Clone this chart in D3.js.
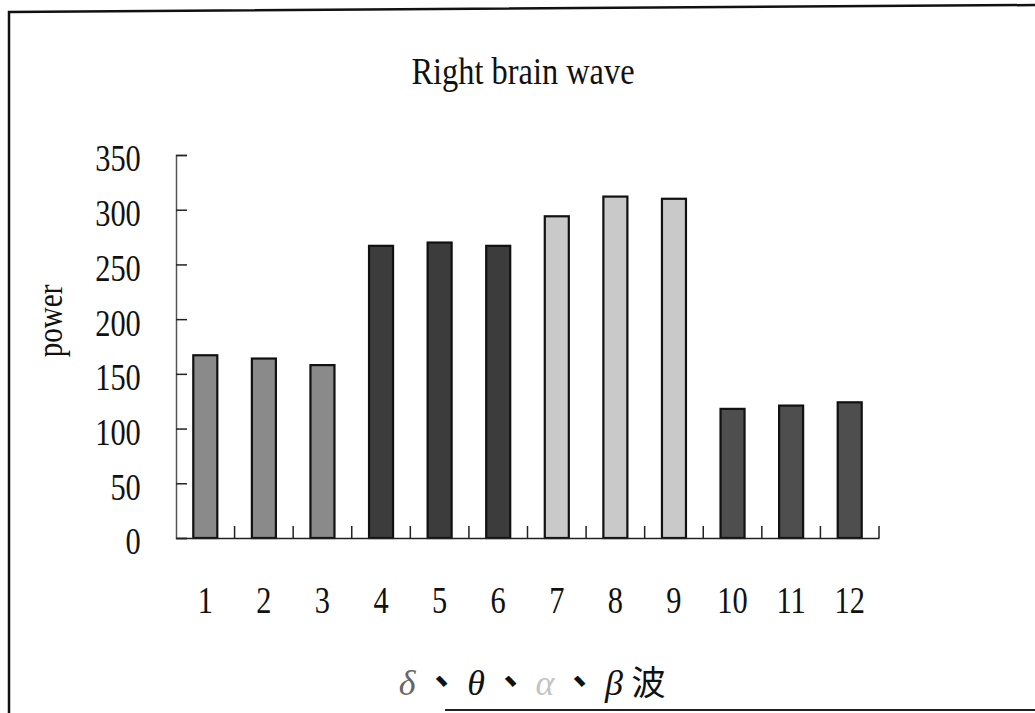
<!DOCTYPE html>
<html>
<head>
<meta charset="utf-8">
<script src="https://cdn.jsdelivr.net/npm/d3@7"></script>
<style>
  html, body { margin: 0; padding: 0; background: #fff; }
  svg { display: block; }
</style>
</head>
<body>
<script>
// data
var categories = ['1', '2', '3', '4', '5', '6', '7', '8', '9', '10', '11', '12'];
var power = [167, 164, 158, 267, 270, 267, 294, 312, 310, 118, 121, 124];
var waveBand = ['δ', 'δ', 'δ', 'θ', 'θ', 'θ', 'α', 'α', 'α', 'β', 'β', 'β'];
var yTicks = [0, 50, 100, 150, 200, 250, 300, 350];
var xLabelParts = ['δ', '、', 'θ', '、', 'α', '、', 'β', '波'];

var width = 1035,
    height = 713;

var serif = '"Liberation Serif", "Times New Roman", serif';
var cjk = '"Noto Sans CJK TC", "Noto Sans CJK SC", sans-serif';

var svg = d3.select('body').append('svg')
  .attr('width', width)
  .attr('height', height);

// scanned page frame
svg.append('path')
  .attr('d', 'M9,713 L9,12 L1035,5')
  .attr('fill', 'none')
  .attr('stroke', '#111')
  .attr('stroke-width', 2.5);
svg.append('line')
  .attr('x1', 445).attr('x2', 1035)
  .attr('y1', 710).attr('y2', 710)
  .attr('stroke', '#222')
  .attr('stroke-width', 2);

var x = d3.scaleBand()
  .domain(categories)
  .range([176, 879])
  .paddingInner(0.59)
  .paddingOuter(0.295);

var y = d3.scaleLinear()
  .domain([0, 350])
  .range([538, 155]);

var color = d3.scaleOrdinal()
  .domain(['δ', 'θ', 'α', 'β'])
  .range(['#8a8a8a', '#3c3c3c', '#c9c9c9', '#4e4e4e']);

// title
svg.append('text')
  .attr('transform', 'translate(523,84) scale(0.9,1.05)')
  .attr('text-anchor', 'middle')
  .attr('font-family', serif)
  .attr('font-size', 36)
  .attr('fill', '#111')
  .text('Right brain wave');

// y axis (ticks drawn inside)
var yAxis = svg.append('g')
  .attr('transform', 'translate(176,0)')
  .call(d3.axisLeft(y).tickValues(yTicks).tickSize(-11).tickPadding(44).tickSizeOuter(-11));
yAxis.select('.domain').attr('stroke', '#555').attr('stroke-width', 1.5);
yAxis.selectAll('.tick line').attr('stroke', '#222').attr('stroke-width', 1.5);
yAxis.selectAll('.tick text')
  .attr('transform', 'scale(0.8,1)')
  .attr('dy', '0.42em')
  .attr('font-family', serif)
  .attr('font-size', 38)
  .attr('fill', '#111');

// bars
svg.selectAll('rect.bar')
  .data(power)
  .enter()
  .append('rect')
  .attr('class', 'bar')
  .attr('x', function(d, i) { return x(categories[i]); })
  .attr('width', x.bandwidth())
  .attr('y', function(d) { return y(d); })
  .attr('height', function(d) { return y(0) - y(d); })
  .attr('fill', function(d, i) { return color(waveBand[i]); })
  .attr('stroke', '#111')
  .attr('stroke-width', 2.2);

// x axis: labels under bars, ticks on category boundaries
var xAxis = svg.append('g')
  .attr('transform', 'translate(0,538)')
  .call(d3.axisBottom(x).tickSize(0).tickSizeOuter(0).tickPadding(0));
xAxis.select('.domain').attr('stroke', '#222').attr('stroke-width', 1.5);
xAxis.selectAll('.tick text')
  .attr('y', 0)
  .attr('dy', 0)
  .attr('transform', 'translate(0,75) scale(0.8,1)')
  .attr('font-family', serif)
  .attr('font-size', 38)
  .attr('fill', '#111');

svg.selectAll('line.xtick')
  .data(categories)
  .enter()
  .append('line')
  .attr('class', 'xtick')
  .attr('x1', function(d) { return x(d) + x.bandwidth() + x.step() * x.paddingInner() / 2; })
  .attr('x2', function(d) { return x(d) + x.bandwidth() + x.step() * x.paddingInner() / 2; })
  .attr('y1', y(0))
  .attr('y2', y(0) - 12)
  .attr('stroke', '#222')
  .attr('stroke-width', 1.5);

// y axis title
svg.append('text')
  .attr('transform', 'translate(62,321) rotate(-90) scale(0.83,1)')
  .attr('text-anchor', 'middle')
  .attr('font-family', serif)
  .attr('font-size', 35)
  .attr('fill', '#111')
  .text('power');

// x axis title: δ、θ、α、β波
var partColor = { 'α': '#c4c4c4', 'δ': '#666' };
svg.selectAll('text.xtitle')
  .data(xLabelParts)
  .enter()
  .append('text')
  .attr('class', 'xtitle')
  .attr('x', function(d, i) { return 407 + i * 34.5; })
  .attr('y', 695)
  .attr('text-anchor', 'middle')
  .attr('font-family', function(d) { return (d === '、' || d === '波') ? cjk : serif; })
  .attr('font-style', function(d) { return (d === '、' || d === '波') ? 'normal' : 'italic'; })
  .attr('font-weight', function(d) { return d === '、' ? 'bold' : 'normal'; })
  .attr('font-size', function(d) { return d === '波' ? 34 : 36; })
  .attr('fill', function(d) { return partColor[d] || '#111'; })
  .text(function(d) { return d; });
</script>
</body>
</html>
